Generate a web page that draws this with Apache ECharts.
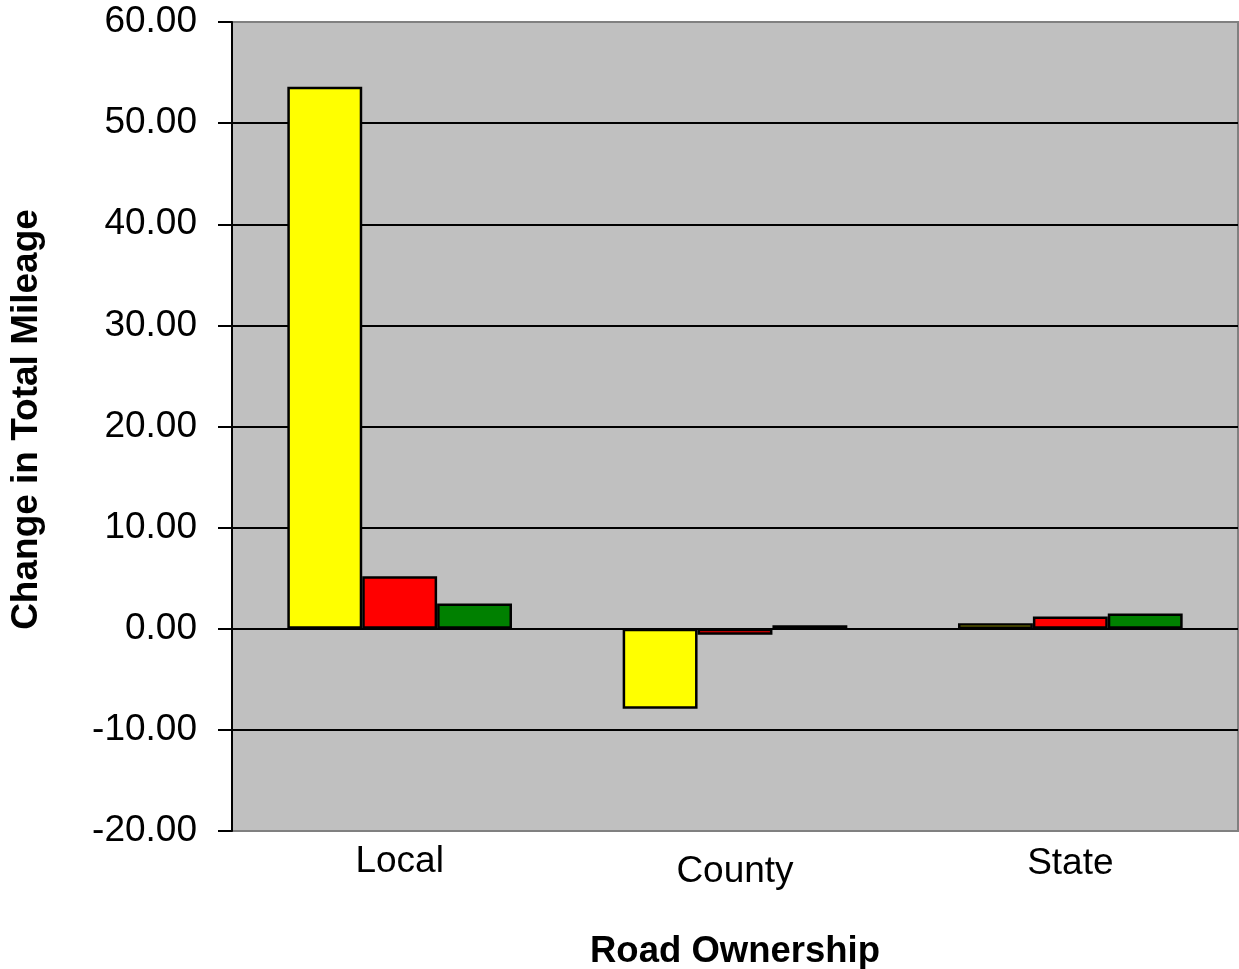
<!DOCTYPE html>
<html>
<head>
<meta charset="utf-8">
<script src="https://cdn.jsdelivr.net/npm/echarts@6/dist/echarts.min.js"></script>
<style>
html,body{margin:0;padding:0;background:#fff;}
#chart{width:1239px;height:969px;}
</style>
</head>
<body>
<div id="chart"></div>
<script>
var categories = ['Local', 'County', 'State'];
var seriesYellow = [53.6, -7.9, 0.55];
var seriesRed = [5.2, -0.6, 1.2];
var seriesGreen = [2.5, 0.35, 1.5];
var yTicks = [-20, -10, 0, 10, 20, 30, 40, 50, 60];

var chart = echarts.init(document.getElementById('chart'));
var font = 'Liberation Sans, Arial, sans-serif';
function bar(data, color) {
  return {
    type: 'bar',
    data: data,
    barGap: '0%',
    barCategoryGap: '33%',
    itemStyle: { color: color, borderColor: '#000', borderWidth: 2.5 },
    animation: false
  };
}
var splitColors = yTicks.map(function (v, i) {
  return (i === 0 || i === yTicks.length - 1) ? '#808080' : '#000000';
});
chart.setOption({
  animation: false,
  grid: {
    left: 232, right: 1, top: 22, bottom: 138,
    outerBoundsMode: 'none',
    containLabel: false,
    show: true, backgroundColor: '#c0c0c0', borderColor: '#808080', borderWidth: 2
  },
  xAxis: {
    type: 'category',
    data: categories,
    name: 'Road Ownership',
    nameLocation: 'middle',
    nameGap: 102,
    nameTextStyle: { fontFamily: font, fontSize: 36.5, fontWeight: 'bold', color: '#000' },
    axisLine: { show: false },
    axisTick: { show: false },
    axisLabel: {
      margin: 12,
      fontFamily: font, fontSize: 37, color: '#000',
      formatter: function (v) {
        if (v === 'County') return '{c|' + v + '}';
        if (v === 'State') return '{s|' + v + '}';
        return '{l|' + v + '}';
      },
      rich: {
        l: { fontFamily: font, fontSize: 37, color: '#000', padding: [0, 0, 0, 0] },
        c: { fontFamily: font, fontSize: 37, color: '#000', padding: [10, 0, 0, 0] },
        s: { fontFamily: font, fontSize: 37, color: '#000', padding: [2, 0, 0, 0] }
      }
    }
  },
  yAxis: {
    type: 'value',
    min: -20, max: 60, interval: 10,
    name: 'Change in Total Mileage',
    nameLocation: 'middle',
    nameGap: 187,
    nameTextStyle: { fontFamily: font, fontSize: 37, fontWeight: 'bold', color: '#000', padding: [0, 0, 0, 14] },
    axisLine: { show: true, onZero: false, lineStyle: { color: '#000', width: 2 } },
    axisTick: { show: true, length: 14, lineStyle: { color: '#000', width: 2 } },
    axisLabel: {
      margin: 35,
      fontFamily: font, fontSize: 37, color: '#000',
      formatter: function (v) { return v.toFixed(2); }
    },
    splitLine: { show: true, lineStyle: { color: splitColors, width: 2 } }
  },
  series: [
    bar(seriesYellow, '#ffff00'),
    bar(seriesRed, '#ff0000'),
    bar(seriesGreen, '#008000')
  ]
});
</script>
</body>
</html>
